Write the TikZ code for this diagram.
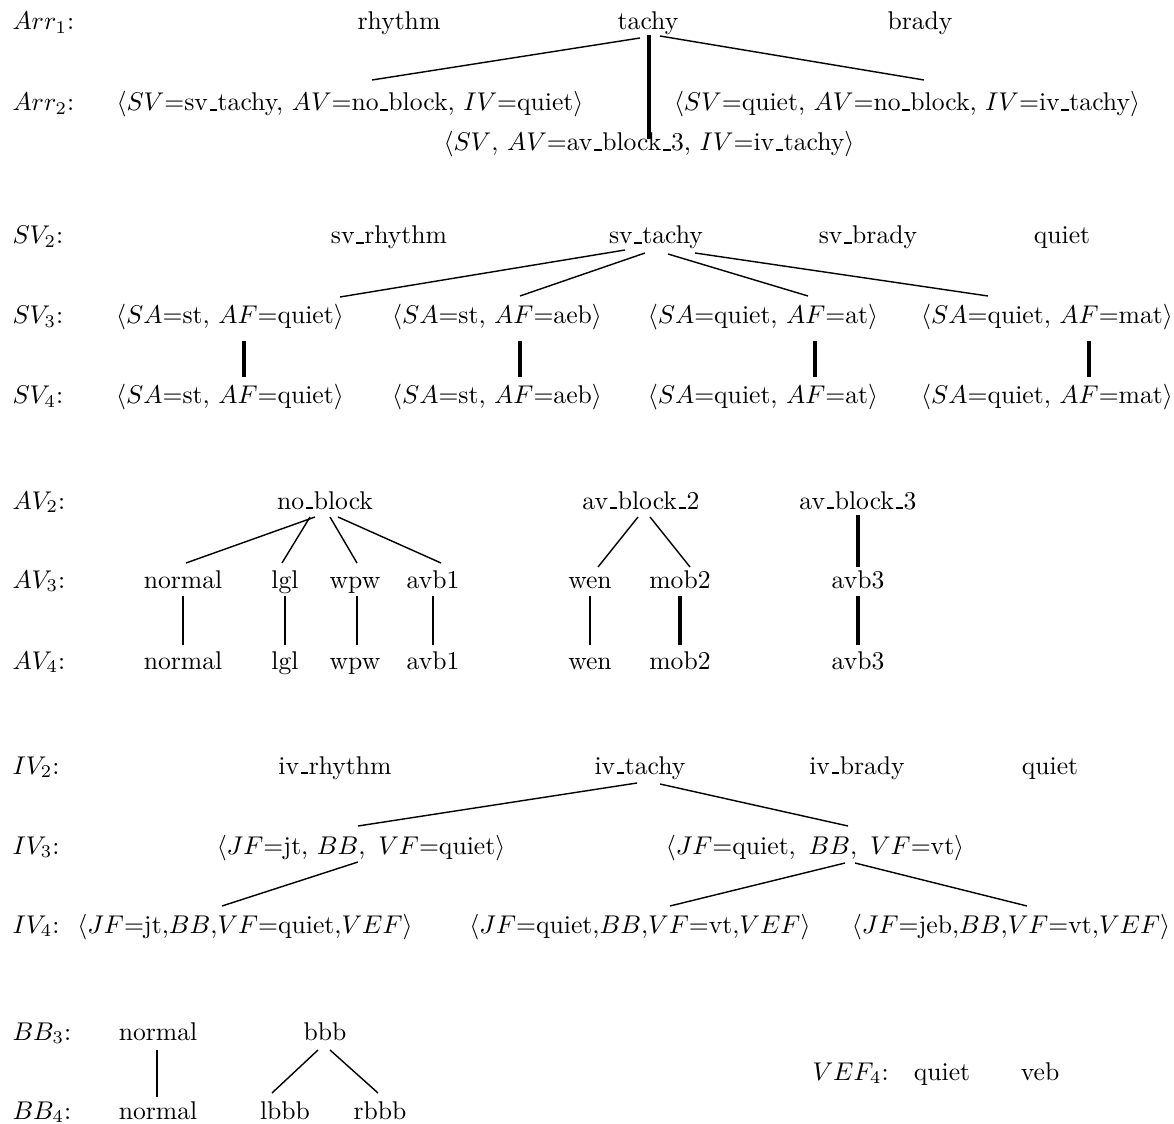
\documentclass[tikz,border=0pt]{standalone}
\usetikzlibrary{calc}
% short underscore sitting on the baseline
\newcommand\uscore{\leavevmode\kern.06em\vbox{\hrule height 0.7pt width .3em}\kern.02em}
\begin{document}
\begin{tikzpicture}[x=0.39pt,y=-0.39pt,
  lbl/.style={anchor=base west,inner sep=0pt},
  txt/.style={anchor=base,inner sep=0pt},
  thinline/.style={line width=0.55pt},
  midline/.style={line width=0.8pt},
  thickline/.style={line width=1.2pt}]
\useasboundingbox (0,0) rectangle (1174,1124);

% ---------- Arr ----------
\node[lbl] (lArrA) at (12,30) {$Arr_1$:};
\node[lbl] (lArrB) at (12,111) {$Arr_2$:};
\node[txt] (rhythm) at (399,30) {rhythm};
\node[txt] (tachy) at (648,30) {tachy};
\node[txt] (brady) at (920,30) {brady};
\node[txt] (a2l) at (350,111) {$\langle SV$=sv\uscore tachy, $AV$=no\uscore block, $IV$=quiet$\rangle$};
\node[txt] (a2r) at (907,111) {$\langle SV$=quiet, $AV$=no\uscore block, $IV$=iv\uscore tachy$\rangle$};
\node[txt] (a2m) at (649,151) {$\langle SV$, $AV$=av\uscore block\uscore 3, $IV$=iv\uscore tachy$\rangle$};
\draw[thinline] ($(tachy.base)+(-8,8)$) -- ($(a2l.base)+(22,-31)$);
\draw[thickline] ($(tachy.base)+(1,5)$) -- ($(a2m.base)+(0,-12)$);
\draw[thinline] ($(tachy.base)+(12,6)$) -- ($(a2r.base)+(17,-31)$);

% ---------- SV ----------
\node[lbl] (lSVB) at (12,244) {$SV_2$:};
\node[lbl] (lSVC) at (12,324) {$SV_3$:};
\node[lbl] (lSVD) at (12,404) {$SV_4$:};
\node[txt] (svr) at (389,244) {sv\uscore rhythm};
\node[txt] (svt) at (656,244) {sv\uscore tachy};
\node[txt] (svb) at (868,244) {sv\uscore brady};
\node[txt] (svq) at (1062,244) {quiet};
\node[txt] (s3a) at (230,324) {$\langle SA$=st, $AF$=quiet$\rangle$};
\node[txt] (s3b) at (497,324) {$\langle SA$=st, $AF$=aeb$\rangle$};
\node[txt] (s3c) at (763,324) {$\langle SA$=quiet, $AF$=at$\rangle$};
\node[txt] (s3d) at (1047,324) {$\langle SA$=quiet, $AF$=mat$\rangle$};
\node[txt] (s4a) at (230,404) {$\langle SA$=st, $AF$=quiet$\rangle$};
\node[txt] (s4b) at (497,404) {$\langle SA$=st, $AF$=aeb$\rangle$};
\node[txt] (s4c) at (763,404) {$\langle SA$=quiet, $AF$=at$\rangle$};
\node[txt] (s4d) at (1047,404) {$\langle SA$=quiet, $AF$=mat$\rangle$};
\draw[thinline] ($(svt.base)+(-31,6)$) -- ($(s3a.base)+(110,-27)$);
\draw[thinline] ($(svt.base)+(-11,9)$) -- ($(s3b.base)+(23,-28)$);
\draw[thinline] ($(svt.base)+(12,10)$) -- ($(s3c.base)+(45,-28)$);
\draw[thinline] ($(svt.base)+(39,9)$) -- ($(s3d.base)+(-59,-28)$);
\draw[thickline] ($(s3a.base)+(14,17)$) -- ($(s4a.base)+(14,-27)$);
\draw[thickline] ($(s3b.base)+(23,17)$) -- ($(s4b.base)+(23,-27)$);
\draw[thickline] ($(s3c.base)+(52,17)$) -- ($(s4c.base)+(52,-27)$);
\draw[thickline] ($(s3d.base)+(42,17)$) -- ($(s4d.base)+(42,-27)$);

% ---------- AV ----------
\node[lbl] (lAVB) at (12,509) {$AV_2$:};
\node[lbl] (lAVC) at (12,588) {$AV_3$:};
\node[lbl] (lAVD) at (12,669) {$AV_4$:};
\node[txt] (nob) at (325,509) {no\uscore block};
\node[txt] (avbB) at (641,509) {av\uscore block\uscore 2};
\node[txt] (avbC) at (858,509) {av\uscore block\uscore 3};
\node[txt] (nor3) at (183,588) {normal};
\node[txt] (lgl3) at (285,588) {lgl};
\node[txt] (wpw3) at (355,588) {wpw};
\node[txt] (avo3) at (433,588) {avb1};
\node[txt] (wen3) at (590,588) {wen};
\node[txt] (mob3) at (680,588) {mob2};
\node[txt] (avt3) at (858,588) {avb3};
\node[txt] (nor4) at (183,669) {normal};
\node[txt] (lgl4) at (285,669) {lgl};
\node[txt] (wpw4) at (355,669) {wpw};
\node[txt] (avo4) at (433,669) {avb1};
\node[txt] (wen4) at (590,669) {wen};
\node[txt] (mob4) at (680,669) {mob2};
\node[txt] (avt4) at (858,669) {avb3};
\draw[thinline] ($(nob.base)+(-10,8)$) -- ($(nor3.base)+(3,-25)$);
\draw[thinline] ($(nob.base)+(-15,8)$) -- ($(lgl3.base)+(-3,-25)$);
\draw[thinline] ($(nob.base)+(5,8)$) -- ($(wpw3.base)+(2,-25)$);
\draw[thinline] ($(nob.base)+(13,8)$) -- ($(avo3.base)+(8,-25)$);
\draw[thinline] ($(avbB.base)+(-3,8)$) -- ($(wen3.base)+(8,-21)$);
\draw[thinline] ($(avbB.base)+(9,8)$) -- ($(mob3.base)+(10,-21)$);
\draw[thickline] ($(avbC.base)+(0,6)$) -- ($(avt3.base)+(0,-21)$);
\draw[midline] ($(nor3.base)+(0,8)$) -- ($(nor4.base)+(0,-24)$);
\draw[midline] ($(lgl3.base)+(0,8)$) -- ($(lgl4.base)+(0,-24)$);
\draw[midline] ($(wpw3.base)+(2,8)$) -- ($(wpw4.base)+(2,-24)$);
\draw[midline] ($(avo3.base)+(0,8)$) -- ($(avo4.base)+(0,-24)$);
\draw[midline] ($(wen3.base)+(0,8)$) -- ($(wen4.base)+(0,-24)$);
\draw[thickline] ($(mob3.base)+(0,8)$) -- ($(mob4.base)+(0,-24)$);
\draw[thickline] ($(avt3.base)+(0,8)$) -- ($(avt4.base)+(0,-24)$);

% ---------- IV ----------
\node[lbl] (lIVB) at (12,774) {$IV_2$:};
\node[lbl] (lIVC) at (12,854) {$IV_3$:};
\node[lbl] (lIVD) at (12,933) {$IV_4$:};
\node[txt] (ivr) at (335,774) {iv\uscore rhythm};
\node[txt] (ivt) at (640,774) {iv\uscore tachy};
\node[txt] (ivb) at (857,774) {iv\uscore brady};
\node[txt] (ivq) at (1050,774) {quiet};
\node[txt] (i3a) at (361,854) {$\langle JF$=jt, $BB$,\, $VF$=quiet$\rangle$};
\node[txt] (i3b) at (815,854) {$\langle JF$=quiet,\, $BB$,\, $VF$=vt$\rangle$};
\node[txt] (i4a) at (245,933) {$\langle JF$=jt,$BB$,$VF$=quiet,$VEF\rangle$};
\node[txt] (i4b) at (640,933) {$\langle JF$=quiet,$BB$,$VF$=vt,$VEF\rangle$};
\node[txt] (i4c) at (1011,933) {$\langle JF$=jeb,$BB$,$VF$=vt,$VEF\rangle$};
\draw[thinline] ($(ivt.base)+(-3,9)$) -- ($(i3a.base)+(-3,-28)$);
\draw[thinline] ($(ivt.base)+(20,10)$) -- ($(i3b.base)+(33,-28)$);
\draw[thinline] ($(i3a.base)+(-3,8)$) -- ($(i4a.base)+(-23,-27)$);
\draw[thinline] ($(i3b.base)+(30,9)$) -- ($(i4b.base)+(30,-27)$);
\draw[thinline] ($(i3b.base)+(40,9)$) -- ($(i4c.base)+(16,-27)$);

% ---------- BB and VEF ----------
\node[lbl] (lBBC) at (12,1040) {$BB_3$:};
\node[lbl] (lBBD) at (12,1119) {$BB_4$:};
\node[txt] (bbn3) at (158,1040) {normal};
\node[txt] (bbb) at (325,1040) {bbb};
\node[txt] (bbn4) at (158,1119) {normal};
\node[txt] (lbbb) at (285,1119) {lbbb};
\node[txt] (rbbb) at (380,1119) {rbbb};
\draw[midline] ($(bbn3.base)+(-1,10)$) -- ($(bbn4.base)+(-1,-22)$);
\draw[thinline] ($(bbb.base)+(-7,10)$) -- ($(lbbb.base)+(-13,-26)$);
\draw[thinline] ($(bbb.base)+(5,10)$) -- ($(rbbb.base)+(-2,-26)$);
\node[lbl] (lVEF) at (812,1080) {$VEF_4$:};
\node[txt] (vq) at (942,1080) {quiet};
\node[txt] (vveb) at (1040,1080) {veb};
\end{tikzpicture}
\end{document}
